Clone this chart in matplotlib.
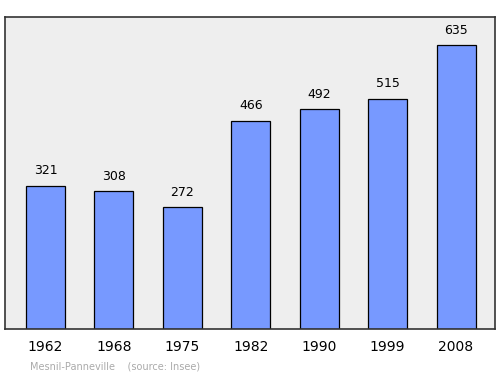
import matplotlib.pyplot as plt

# Données de population
years = ['1962', '1968', '1975', '1982', '1990', '1999', '2008']
population = [321, 308, 272, 466, 492, 515, 635]
source_text = 'Mesnil-Panneville    (source: Insee)'

fig = plt.figure(figsize=(5, 3.74), dpi=100)
ax = fig.add_axes([0.01, 0.1203, 0.98, 0.8342])
ax.set_facecolor('#eeeeee')

x = range(len(years))
bars = ax.bar(x, population, width=0.57, color='#7799ff', edgecolor='black', linewidth=0.9)

for xi, val in zip(x, population):
    ax.annotate(str(val), (xi, val), xytext=(0, 6), textcoords='offset points',
                ha='center', va='bottom', fontsize=9)

ax.set_xlim(-0.592, 6.57)
ax.set_ylim(0, 698)
ax.set_yticks([])
ax.set_xticks(list(x))
ax.set_xticklabels(years, fontsize=10)
ax.tick_params(axis='x', length=0, pad=8)
for s in ax.spines.values():
    s.set_linewidth(1.2)
    s.set_color('#333333')

fig.text(0.06, 0.008, source_text, fontsize=7, color='#aaaaaa', ha='left', va='bottom')

fig.savefig('out.png', dpi=100)
